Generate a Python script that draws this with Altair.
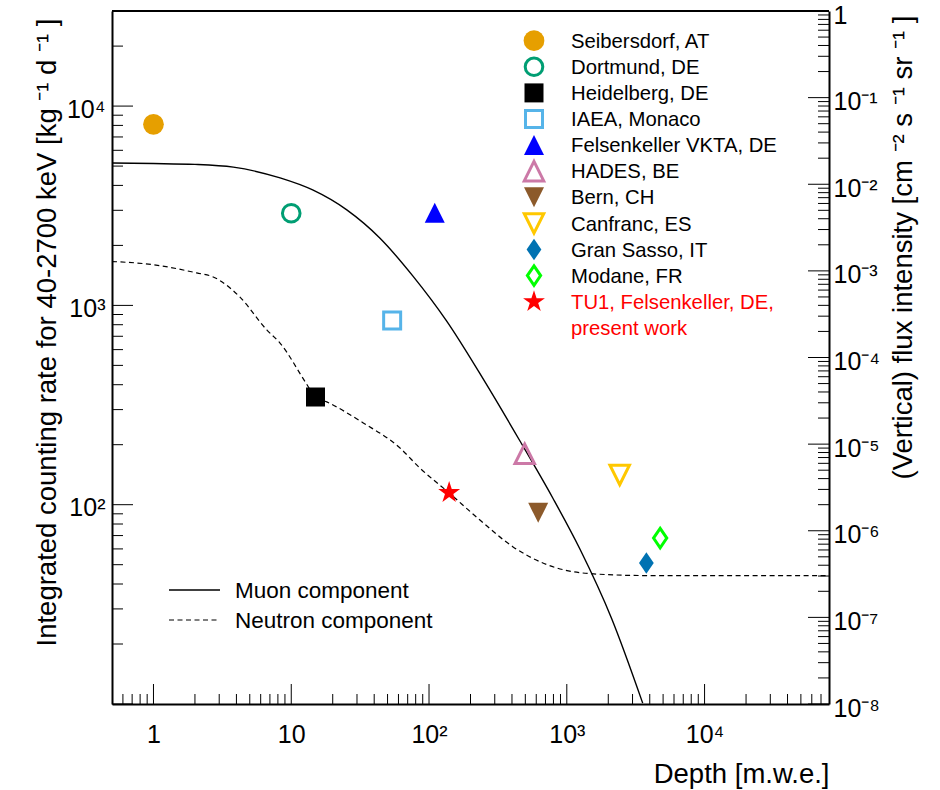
import altair as alt
import pandas as pd

# ---- measured background rates at underground / surface sites ----
sites = [
    "Seibersdorf, AT", "Dortmund, DE", "Heidelberg, DE", "IAEA, Monaco",
    "Felsenkeller VKTA, DE", "HADES, BE", "Bern, CH", "Canfranc, ES",
    "Gran Sasso, IT", "Modane, FR", "TU1, Felsenkeller, DE,\npresent work",
]
depth = [1, 10, 15, 54, 110, 495, 620, 2420, 3780, 4760, 140]          # m.w.e.
rate = [8100, 2900, 347, 840, 2920, 180, 91, 141, 51, 68, 115]          # kg^-1 d^-1

# ---- depth dependence of the two cosmic-ray components ----
muon_depth = [0.5, 1, 2, 3.8, 8.3, 14.3, 25.3, 43.9, 76.2, 134, 249, 455,
              791, 1242, 2118, 3556]
muon_rate = [5180, 5150, 5100, 4940, 4360, 3794, 3013, 2178, 1406, 836, 424,
             210, 108, 60.1, 26.8, 10.1]
neutron_depth = [0.5, 1, 2.06, 2.69, 4.23, 6.64, 8.26, 12.9, 14.9, 18.1, 33.1,
                 61.3, 85.6, 139, 233, 405, 714, 1466, 3800, 80000]
neutron_rate = [1660, 1600, 1455, 1393, 1103, 754, 649, 404, 348, 328, 258,
                193, 153, 115, 84, 61.6, 50.1, 45.1, 44.1, 44.1]

# ---- marker styles ----
STAR = ("M0,-1L0.2245,-0.309L0.9511,-0.309L0.3633,0.118L0.5878,0.809L0,0.382"
        "L-0.5878,0.809L-0.3633,0.118L-0.9511,-0.309L-0.2245,-0.309Z")
TRI_UP = "M0,-1L1,1L-1,1Z"
TRI_DOWN = "M0,1L1,-1L-1,-1Z"
DIAMOND = "M0,-1L0.68,0L0,1L-0.68,0Z"
marker_shape = ["circle", "circle", "square", "square", TRI_UP, TRI_UP,
                TRI_DOWN, TRI_DOWN, DIAMOND, DIAMOND, STAR]
marker_color = ["#E69F00", "#009E73", "#000000", "#56B4E9", "#0000FF",
                "#CC79A7", "#8C5A2B", "#FFC800", "#0072B2", "#00FF00", "#FF0000"]
marker_filled = [True, False, True, False, True, False, True, False, True, False, True]
marker_size = [430, 310, 361, 289, 400, 380, 400, 380, 470, 380, 530]
label_color = ["black"] * 10 + ["#FF0000"]

FONT = "Liberation Sans"
W, H = 717, 693

pts = pd.DataFrame({
    "site": sites, "depth": depth, "rate": rate,
    "shape": marker_shape,
    "fill": [c if f else "transparent" for c, f in zip(marker_color, marker_filled)],
    "stroke": marker_color,
    "sw": [0 if f else 3 for f in marker_filled],
    "size": marker_size,
    "tcolor": label_color,
    "row": list(range(len(sites))),
})
muon = pd.DataFrame({"depth": muon_depth, "rate": muon_rate})
neutron = pd.DataFrame({"depth": neutron_depth, "rate": neutron_rate})
one = pd.DataFrame({"k": [0]})

xscale = alt.Scale(type="log", domain=[0.5, 80000], nice=False)
yscale = alt.Scale(type="log", domain=[10, 30000], nice=False)
rscale = alt.Scale(type="log", domain=[1e-8, 1], nice=False)

frame = dict(domain=True, domainColor="black", domainWidth=2)

xaxis = alt.Axis(
    values=[1, 10, 100, 1000, 10000],
    labelExpr="datum.value < 5 ? '1' : datum.value < 50 ? '10' : "
              "'10' + ['','','²','³','⁴'][round(log(datum.value)/LN10)]",
    ticks=False, grid=False, labelOverlap=False, labelFlush=False,
    labelFont=FONT, labelFontSize=25, labelColor="black", labelPadding=18,
    title="Depth [m.w.e.]", titleFont=FONT, titleFontSize=27.5,
    titleFontWeight="normal", titleColor="black",
    titleX=W, titleY=78, titleAlign="right", titleBaseline="alphabetic",
    **frame,
)
yaxis = alt.Axis(
    values=[100, 1000, 10000],
    labelExpr="'10' + ['','','²','³','⁴'][round(log(datum.value)/LN10)]",
    ticks=False, grid=False, labelOverlap=False, labelFlush=False,
    labelFont=FONT, labelFontSize=25, labelColor="black", labelPadding=7,
    labelOffset=3,
    title="Integrated counting rate for 40-2700 keV [kg ⁻¹ d ⁻¹ ]",
    titleFont=FONT, titleFontSize=27.5, titleFontWeight="normal",
    titleColor="black", titleAngle=270, titleX=-65, titleY=7,
    titleAlign="right", titleBaseline="middle",
    **frame,
)
raxis = alt.Axis(
    orient="right",
    values=[10.0 ** -k for k in range(0, 9)],
    labelExpr="datum.value > 0.5 ? '1' : "
              "'10⁻' + ['','¹','²','³','⁴','⁵','⁶','⁷','⁸'][round(-log(datum.value)/LN10)]",
    ticks=False, grid=False, labelOverlap=False, labelFlush=False,
    labelFont=FONT, labelFontSize=25, labelColor="black", labelPadding=4,
    labelOffset=4,
    title="(Vertical) flux intensity [cm ⁻² s ⁻¹ sr ⁻¹ ]",
    titleFont=FONT, titleFontSize=27.5, titleFontWeight="normal",
    titleColor="black", titleAngle=270, titleX=74, titleY=4,
    titleAlign="right", titleBaseline="middle",
    **frame,
)

X = alt.X("depth:Q", scale=xscale, axis=xaxis)
Y = alt.Y("rate:Q", scale=yscale, axis=yaxis)

# component curves
muon_line = alt.Chart(muon).mark_line(
    color="black", strokeWidth=1.4, interpolate="monotone", clip=True
).encode(x=X, y=Y)
neutron_line = alt.Chart(neutron).mark_line(
    color="black", strokeWidth=1.2, strokeDash=[5, 3.5], interpolate="monotone", clip=True
).encode(x=X, y=Y)

# site markers
point_enc = dict(
    shape=alt.Shape("shape:N", scale=None),
    fill=alt.Fill("fill:N", scale=None),
    stroke=alt.Stroke("stroke:N", scale=None),
    size=alt.Size("size:Q", scale=None),
    strokeWidth=alt.StrokeWidth("sw:Q", scale=None),
)
points = alt.Chart(pts).mark_point(opacity=1, fillOpacity=1, strokeOpacity=1).encode(
    x=X, y=Y, **point_enc
)

# inward log ticks (major and minor)
def log_ticks(lo, hi, kmin, kmax):
    major = [10.0 ** k for k in range(kmin, kmax + 1) if lo <= 10.0 ** k <= hi]
    minor = [m * 10.0 ** k for k in range(kmin, kmax + 1) for m in range(2, 10)
             if lo < m * 10.0 ** k < hi]
    return major, minor

x_major, x_minor = log_ticks(0.5, 80000, -1, 5)
y_major, y_minor = log_ticks(10, 30000, 1, 5)
r_major, r_minor = log_ticks(1e-8, 1, -8, 0)

def xticks(vals, length):
    return alt.Chart(pd.DataFrame({"depth": vals})).mark_rule(
        color="black", strokeWidth=1
    ).encode(x=X, y=alt.value(H), y2=alt.value(H - length))

def yticks(vals, length):
    return alt.Chart(pd.DataFrame({"rate": vals})).mark_rule(
        color="black", strokeWidth=1
    ).encode(y=Y, x=alt.value(0), x2=alt.value(length))

def rticks(vals, length):
    return alt.Chart(pd.DataFrame({"flux": vals})).mark_rule(
        color="black", strokeWidth=1
    ).encode(y=alt.Y("flux:Q", scale=rscale, axis=raxis),
             x=alt.value(W), x2=alt.value(W - length))

# top edge of the frame
top_edge = alt.Chart(one).mark_rule(color="black", strokeWidth=2).encode(
    x=alt.value(0), x2=alt.value(W), y=alt.value(0)
)

# marker legend (top right)
leg_base = alt.Chart(pts).transform_calculate(
    ly="29.7 + 26.1 * datum.row", ty="36.8 + 26.1 * datum.row"
)
leg_markers = leg_base.mark_point(opacity=1, fillOpacity=1, strokeOpacity=1).encode(
    x=alt.value(422), y=alt.Y("ly:Q", scale=None, axis=None), **point_enc
)
leg_text = leg_base.mark_text(
    align="left", baseline="alphabetic", font=FONT, fontSize=20.3,
    lineBreak="\n", lineHeight=26,
).encode(
    x=alt.value(459), y=alt.Y("ty:Q", scale=None, axis=None),
    text="site:N", fill=alt.Fill("tcolor:N", scale=None),
)

# line legend (bottom left)
muon_key = alt.Chart(one).mark_rule(color="black", strokeWidth=1.4).encode(
    x=alt.value(57), x2=alt.value(108), y=alt.value(579)
)
neutron_key = alt.Chart(one).mark_rule(
    color="black", strokeWidth=1.2, strokeDash=[5, 3.5]
).encode(x=alt.value(57), x2=alt.value(108), y=alt.value(609))
muon_key_text = alt.Chart(one).mark_text(
    align="left", baseline="middle", font=FONT, fontSize=22.5, color="black"
).encode(x=alt.value(123), y=alt.value(580), text=alt.value("Muon component"))
neutron_key_text = alt.Chart(one).mark_text(
    align="left", baseline="middle", font=FONT, fontSize=22.5, color="black"
).encode(x=alt.value(123), y=alt.value(610), text=alt.value("Neutron component"))

main = alt.layer(
    xticks(x_minor, 10), xticks(x_major, 20),
    yticks(y_minor, 11), yticks(y_major, 21),
    top_edge,
    muon_line, neutron_line, points,
    leg_markers, leg_text,
    muon_key, neutron_key, muon_key_text, neutron_key_text,
)
right = alt.layer(rticks(r_minor, 11), rticks(r_major, 21))

chart = alt.layer(main, right).resolve_scale(y="independent").properties(
    width=W, height=H,
    padding={"left": 112, "top": 11, "right": 111, "bottom": 86},
    autosize=alt.AutoSizeParams(type="none"),
    background="white",
).configure(font=FONT).configure_view(strokeWidth=0, stroke=None)

chart.save("out.html", embed_options={"renderer": "svg", "actions": False})
